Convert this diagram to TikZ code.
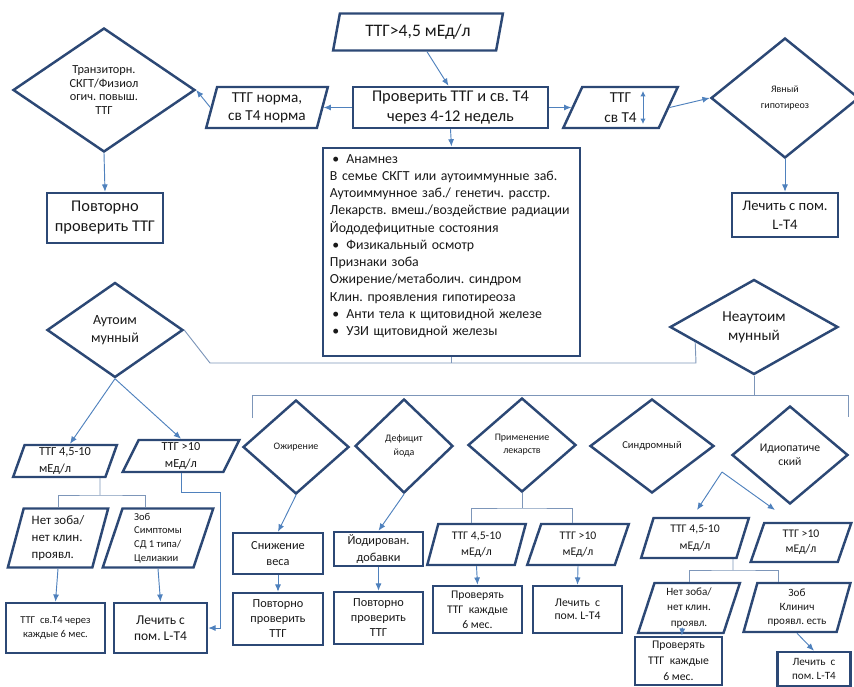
\documentclass[tikz,border=0pt]{standalone}
\usepackage{fontspec}
\setmainfont{Carlito}
\usetikzlibrary{arrows.meta,shapes.geometric,calc}
\definecolor{edgeblue}{RGB}{44,72,117}
\definecolor{arrowblue}{RGB}{79,129,189}
\definecolor{linkblue}{RGB}{125,150,185}
\definecolor{txt}{RGB}{25,25,25}
\newcommand\fsz[2]{\fontsize{#1}{#2}\selectfont}
\newcommand\bl{\makebox[14pt][l]{\,\textbullet}}
\frenchspacing
\tikzset{
  sz/.style 2 args={minimum width=#1*0.03cm, minimum height=#2*0.03cm},
  box/.style={rectangle, draw=edgeblue, line width=2.1pt, fill=white, inner sep=1pt, align=center},
  para/.style={trapezium, trapezium left angle=75, trapezium right angle=105, trapezium stretches=true, draw=edgeblue, line width=2.1pt, fill=white, inner sep=1pt, align=center},
  dia/.style={diamond, draw=edgeblue, line width=2.1pt, fill=white, inner sep=0pt, align=center},
  arr/.style={draw=arrowblue, line width=0.8pt, -{Latex[length=2.2mm,width=1.8mm]}},
  link/.style={draw=linkblue, line width=0.8pt}
}

\begin{document}
\begin{tikzpicture}[x=0.03cm, y=-0.03cm, text=txt]
  \useasboundingbox (0,0) rectangle (854,686);

  \node[para, sz={170}{37}, font=\fsz{15}{17}] (ttgtop) at (418,32) {ТТГ>4,5 мЕд/л};
  \node[box, sz={195}{41}, font=\fsz{14}{17}] (check) at (450.5,107.5) {Проверить ТТГ и св. Т4\\через 4-12 недель};
  \node[para, sz={122}{41}, font=\fsz{13}{15.5}] (norm) at (267,107.5) {ТТГ норма,\\св Т4 норма};
  \node[dia, sz={182}{124}, font=\fsz{10.5}{11.5}] (transit) at (104,90) {Транзиторн.\\СКГТ/Физиол\\огич. повыш.\\ТТГ};
  \node[box, sz={116}{50}, font=\fsz{14}{17}] (repeat1) at (105,218) {Повторно\\проверить ТТГ};
  \node[para, sz={115}{41}, font=\fsz{13}{17}] (ttgup) at (620.5,107.5) {ТТГ\\св Т4};
  \node[dia, sz={148}{120}, font=\fsz{8.5}{13}] (overt) at (785,98) {Явный\\гипотиреоз};
  \node[box, sz={106}{44}, font=\fsz{12.5}{16}] (treat1) at (785,215) {Лечить с пом.\\L-T4};
  \node[box, minimum width=257*0.03cm, text width=7.29cm, inner xsep=0.21cm, inner ysep=0.2cm, align=left, font=\fsz{11.8}{14.7}] (info) at (451.5,252)
    {\bl Анамнез\\
     В семье СКГТ или аутоиммунные заб.\\
     Аутоиммунное заб./ генетич. расстр.\\
     Лекарств. вмеш./воздействие радиации\\
     Йододефицитные состояния\\
     \bl Физикальный осмотр\\
     Признаки зоба\\
     Ожирение/метаболич. синдром\\
     Клин. проявления гипотиреоза\\
     \bl Анти тела к щитовидной железе\\
     \bl УЗИ щитовидной железы\rule[-12pt]{0pt}{1pt}};

  \node[dia, sz={136}{95}, font=\fsz{12}{16}] (autoim) at (115,330) {Аутоим\\мунный};
  \node[dia, sz={168}{95}, font=\fsz{13}{16}] (nonautoim) at (754,327) {Неаутоим\\мунный};

  \node[dia, sz={106}{94}, font=\fsz{8.5}{11}] (obes) at (296,447) {Ожирение};
  \node[dia, sz={98}{94}, font=\fsz{8.5}{12.5}] (iodine) at (404,446) {Дефицит\\йода};
  \node[dia, sz={108}{94}, font=\fsz{8.5}{11}] (drugs) at (522,445) {Применение\\лекарств};
  \node[dia, sz={124}{94}, font=\fsz{9}{12}] (synd) at (652,446) {Синдромный};
  \node[dia, sz={116}{98}, font=\fsz{10}{11.5}] (idio) at (790,455) {Идиопатиче\\ский};

  \node[para, sz={104}{32}, font=\fsz{10.5}{14}, align=left] (aLow) at (65,461) {ТТГ 4,5-10\\мЕд/л};
  \node[para, sz={117}{32}, font=\fsz{10.5}{14}] (aHigh) at (181,456) {ТТГ >10\\мЕд/л};
  \node[para, sz={101}{59}, font=\fsz{11}{14.5}, align=left] (aNoGoiter) at (58,538) {Нет зоба/\\нет клин.\\проявл.};
  \node[para, sz={111}{59}, font=\fsz{9}{11.6}, align=left] (aGoiter) at (158,538) {Зоб\\Симптомы\\СД 1 типа/\\Целиакии};
  \node[box, sz={99}{50}, font=\fsz{9}{12.7}] (aMonitor) at (55.5,628) {ТТГ~ св.Т4 через\\каждые 6 мес.};
  \node[box, sz={93}{50}, font=\fsz{11.5}{13.6}] (aTreat) at (160.5,628) {Лечить с\\пом. L-T4};

  \node[box, sz={90}{41}, font=\fsz{10.5}{13.6}] (oWeight) at (278,553.5) {Снижение\\веса};
  \node[box, sz={90}{52}, font=\fsz{10.5}{12.8}] (oRepeat) at (278,619) {Повторно\\проверить\\ТТГ};
  \node[box, sz={89}{34}, font=\fsz{10.5}{14}] (iSupp) at (378.5,549) {Йодирован.\\добавки};
  \node[box, sz={89}{52}, font=\fsz{10.5}{12.8}] (iRepeat) at (378.5,618) {Повторно\\проверить\\ТТГ};

  \node[para, sz={99}{41}, font=\fsz{10}{13.6}] (dLow) at (476.5,544.5) {ТТГ 4,5-10\\мЕд/л};
  \node[para, sz={102}{41}, font=\fsz{10}{13.6}] (dHigh) at (578,544.5) {ТТГ >10\\мЕд/л};
  \node[box, sz={89}{47}, font=\fsz{10}{12.8}] (dMonitor) at (477.5,609.5) {Проверять\\ТТГ~~каждые\\6 мес.};
  \node[box, sz={89}{47}, font=\fsz{10}{11.5}] (dTreat) at (577.5,609.5) {Лечить~~с\\пом. L-T4};

  \node[para, sz={108}{40}, font=\fsz{10}{14.5}] (idLow) at (695,538) {ТТГ 4,5-10\\мЕд/л};
  \node[para, sz={101}{39}, font=\fsz{10}{12.8}] (idHigh) at (801,542.5) {ТТГ >10\\мЕд/л};
  \node[para, sz={102}{50}, font=\fsz{9.5}{13}] (idNoGoiter) at (689,608) {Нет зоба/\\нет клин.\\проявл.};
  \node[para, sz={107}{49}, font=\fsz{9.5}{12}] (idGoiter) at (797,607.5) {Зоб\\Клинич\\проявл. есть};
  \node[box, sz={87}{48}, font=\fsz{10}{13.6}] (idMonitor) at (678.5,661) {Проверять\\ТТГ~~каждые\\6 мес.};
  \node[box, sz={73}{34}, font=\fsz{9.5}{12.7}] (idTreat) at (814,669) {Лечить~~с\\пом. L-T4};

  \draw[arr] ([xshift=.27cm]ttgtop.south) -- ([xshift=-.06cm]check.north);
  \draw[arr] (check.west) -- (norm.east);
  \draw[arr] (norm.west) -- (transit.east);
  \draw[arr] (transit.south) -- (repeat1.north);
  \draw[arr] (check.east) -- (ttgup.west);
  \draw[arr] (ttgup.east) -- (overt.west);
  \draw[arr] (overt.south) -- (treat1.north);
  \draw[arr] (check.south) -- (info.north);
  \coordinate (up1) at (643,91);
  \coordinate (up2) at (643,124);
  \draw[arr, {Latex[length=1.6mm,width=1.6mm]}-{Latex[length=1.6mm,width=1.6mm]}] (up1) -- (up2);

  \coordinate (j1) at (210,363);
  \coordinate (j2) at (696,363);
  \draw[link] (autoim.east) -- (j1) -- (j2) -- ($(nonautoim.west)!0.31!(nonautoim.south)$);
  \draw[link] (info.south) -- (info.south |- j1);

  \coordinate (bl0) at (252,418);
  \coordinate (br) at (848,395);
  \coordinate (br0) at (848,417);
  \draw[link] (bl0) |- (br) -- (br0);
  \draw[link] (nonautoim.south) -- (nonautoim.south |- br);

  \draw[arr] (autoim.south) -- ([xshift=.15cm]aLow.north);
  \draw[arr] (autoim.south) -- (aHigh.north);
  \coordinate (ka) at (100,495);
  \draw[link] ($(aLow.south)+(35,0)$) -- (ka);
  \draw[link] (aNoGoiter.north) |- (ka) -| ($(aGoiter.north)+(-13,0)$);
  \draw[arr] (aNoGoiter.south) -- (aMonitor.north);
  \draw[arr] (aGoiter.south) -- (aTreat.north);
  \coordinate (kb) at (220,492);
  \draw[arr] (aHigh.south) |- (kb) |- (aTreat.east);

  \draw[arr] (obes.south) -- (oWeight.north);
  \draw[arr] (oWeight.south) -- (oRepeat.north);
  \draw[arr] (iodine.south) -- (iSupp.north);
  \draw[arr] (iSupp.south) -- (iRepeat.north);

  \coordinate (kc) at (522,508);
  \draw[link] (drugs.south) -- (kc);
  \draw[link] ($(dLow.north)+(-5,0)$) |- (kc) -| ($(dHigh.north)+(-6,0)$);
  \draw[arr] (dLow.south) -- (dMonitor.north);
  \draw[arr] (dHigh.south) -- (dTreat.north);

  \coordinate (fk) at (722,472);
  \coordinate (fl) at (697,510);
  \coordinate (fr) at (775,510);
  \draw[arr] (fk) -- (fl);
  \draw[arr] (fk) -- (fr);
  \coordinate (kd) at (733,570);
  \draw[link] ($(idLow.south)+(38,0)$) -- (kd);
  \draw[link] (idNoGoiter.north) |- (kd) -| ($(idGoiter.north)+(-19,0)$);
  \draw[arr] ([xshift=-.2cm,yshift=.2cm]idNoGoiter.south) -- ([xshift=.1cm]idMonitor.north);
  \draw[arr] (idGoiter.south) -- (idTreat.north);
\end{tikzpicture}
\end{document}
